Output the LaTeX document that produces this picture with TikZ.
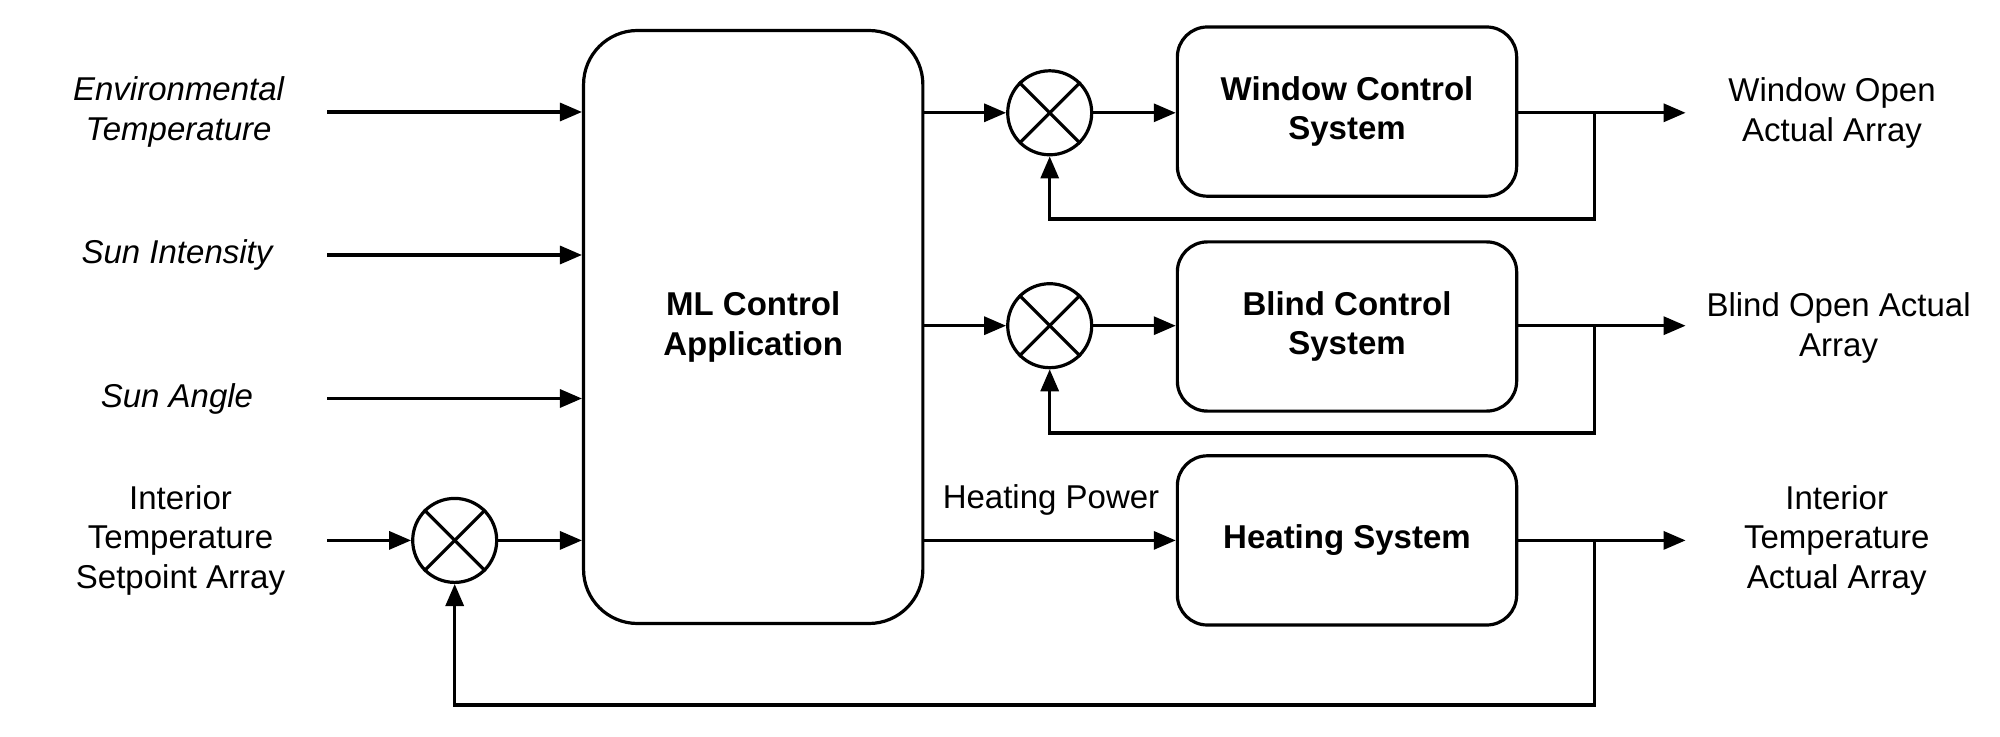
\documentclass[tikz,border=0pt]{standalone}
\usepackage{fontspec}
\setmainfont{Liberation Sans}
\usetikzlibrary{arrows.meta}
\begin{document}
\begin{tikzpicture}[x=0.5pt,y=-0.5pt,
  every node/.style={font=\fontsize{16.5}{19.75}\selectfont},
  conn/.style={line width=1.6pt},
  arr/.style={conn,-{Triangle[length=11pt,width=9pt]}},
  bigbox/.style={draw,line width=1.6pt,rounded corners=27pt,minimum width=169.65pt,minimum height=296.5pt,inner sep=0pt,align=center,font=\fontsize{16.5}{19.75}\selectfont\bfseries},
  sysbox/.style={draw,line width=1.6pt,rounded corners=15pt,minimum width=169.65pt,minimum height=84.6pt,inner sep=0pt,align=center,font=\fontsize{16.5}{19.75}\selectfont\bfseries},
  sumnode/.style={draw,circle,line width=1.6pt,minimum size=42pt,inner sep=0pt},
  lab/.style={align=center,inner sep=0pt},
  ilab/.style={align=center,inner sep=0pt,font=\fontsize{16.5}{19.75}\selectfont\itshape}]
\useasboundingbox (0,0) rectangle (2000,737);

% main blocks
\node[bigbox] (ml) at (753.2,327) {ML Control\\Application};
\node[sysbox] (win) at (1347,111.6) {Window Control\\System};
\node[sysbox] (bli) at (1347,326.5) {Blind Control\\System};
\node[sysbox] (hea) at (1347,540.4) {Heating System};

% summing junctions
\node[sumnode] (s1) at (1049.7,112.8) {};
\node[sumnode] (s2) at (1049.7,325.7) {};
\node[sumnode] (s3) at (454.7,540.4) {};
\foreach \s in {s1,s2,s3}{
  \draw[conn] (\s.45) -- (\s.225);
  \draw[conn] (\s.135) -- (\s.315);
}

% input labels
\node[ilab] (lenv) at (178.6,112) {Environmental\\Temperature};
\node[ilab] (lsi) at (177,255) {Sun Intensity};
\node[ilab] (lsa) at (177,398.5) {Sun Angle};
\node[lab] (lset) at (180.5,540) {Interior\\Temperature\\Setpoint Array};

% output labels
\node[lab] (lwo) at (1832,113) {Window Open\\Actual Array};
\node[lab] (lbo) at (1838.6,328) {Blind Open Actual\\Array};
\node[lab] (lit) at (1836.7,540) {Interior\\Temperature\\Actual Array};
\node[lab] (lhp) at (1051,500) {Heating Power};

% input arrow start points
\coordinate (i1) at (327,112);
\coordinate (i2) at (327,255);
\coordinate (i3) at (327,398.5);
\coordinate (i4) at (327,540.4);

\draw[arr] (i1) -- (i1 -| ml.west);
\draw[arr] (i2) -- (i2 -| ml.west);
\draw[arr] (i3) -- (i3 -| ml.west);
\draw[arr] (i4) -- (s3.west);
\draw[arr] (s3.east) -- (s3.east -| ml.west);

% ML outputs
\draw[arr] (s1.west -| ml.east) -- (s1.west);
\draw[arr] (s2.west -| ml.east) -- (s2.west);
\draw[arr] (hea.west -| ml.east) -- (hea.west);
\draw[arr] (s1.east) -- (s1.east -| win.west);
\draw[arr] (s2.east) -- (s2.east -| bli.west);

% outputs
\coordinate (o1) at (1685.6,112.8);
\coordinate (o2) at (1685.6,325.7);
\coordinate (o3) at (1685.6,540.4);
\coordinate (b1) at (1594.4,112.8);
\coordinate (b2) at (1594.4,325.7);
\coordinate (b3) at (1594.4,540.4);
\coordinate (f1) at (1594.4,219);
\coordinate (f2) at (1594.4,433);
\coordinate (f3) at (1594.4,705);

\draw[arr] (win.east |- o1) -- (o1);
\draw[arr] (bli.east |- o2) -- (o2);
\draw[arr] (hea.east |- o3) -- (o3);

% feedback loops
\draw[arr] (b1) -- (f1) -- (f1 -| s1.south) -- (s1.south);
\draw[arr] (b2) -- (f2) -- (f2 -| s2.south) -- (s2.south);
\draw[arr] (b3) -- (f3) -- (f3 -| s3.south) -- (s3.south);
\end{tikzpicture}
\end{document}
